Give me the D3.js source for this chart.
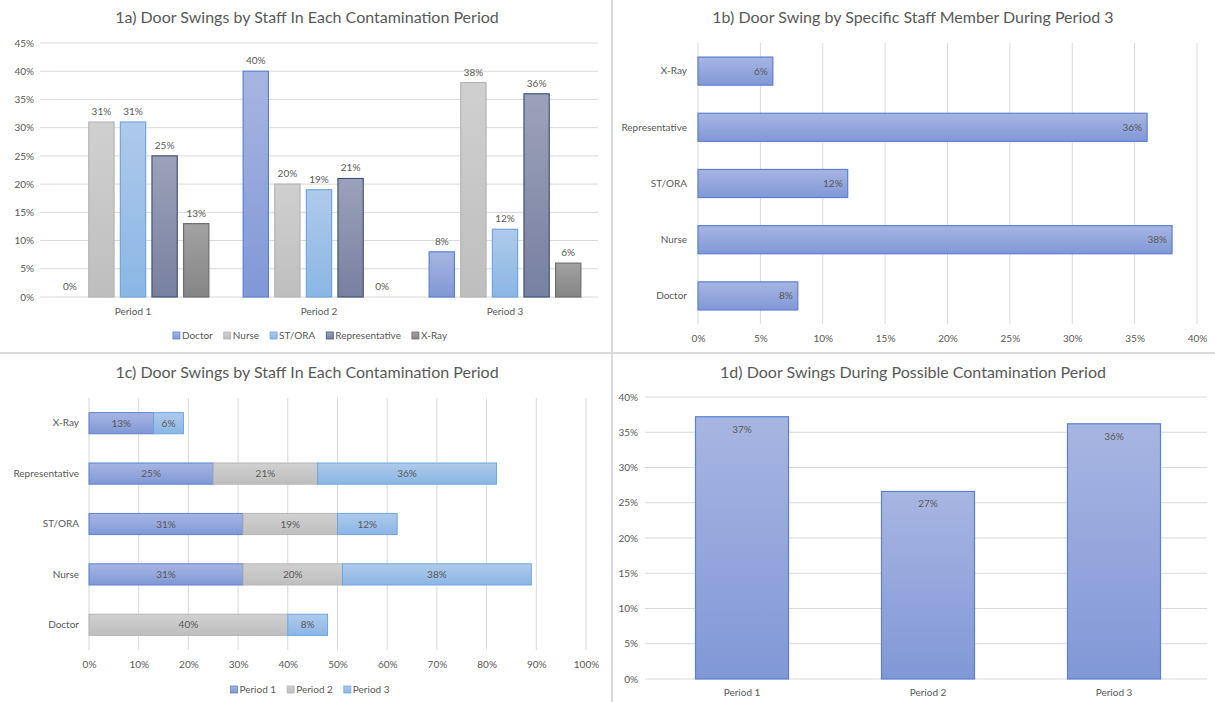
<!DOCTYPE html>
<html><head><meta charset="utf-8">
<script src="https://cdn.jsdelivr.net/npm/d3@7"></script>
<style>
body{margin:0;background:#fff;}
svg{display:block;font-family:Lato,"Open Sans",sans-serif;}
</style></head>
<body>
<svg id="c" width="1215" height="702"></svg>
<script>
// ---------- DATA ----------
const periods = ["Period 1","Period 2","Period 3"];
const staff = ["Doctor","Nurse","ST/ORA","Representative","X-Ray"];
const doctorVals = [0,40,8];
const nurseVals = [31,20,38];
const stOraVals = [31,19,12];
const repVals = [25,21,36];
const xrayVals = [13,0,6];
const p3Staff = ["X-Ray","Representative","ST/ORA","Nurse","Doctor"];
const p3Vals = [6,36,12,38,8];
const stackStaff = ["X-Ray","Representative","ST/ORA","Nurse","Doctor"];
const stackP1 = [13,25,31,31,0];
const stackP2 = [0,21,19,20,40];
const stackP3 = [6,36,12,38,8];
const totalVals = [37.2,26.6,36.2];
const totalLabels = ["37%","27%","36%"];
const ticks1a = [0,5,10,15,20,25,30,35,40,45];
const ticks1b = [0,5,10,15,20,25,30,35,40];
const ticks1c = [0,10,20,30,40,50,60,70,80,90,100];
const ticks1d = [0,5,10,15,20,25,30,35,40];

const svg = d3.select("#c");
const TXT = "#595959", GRID = "#d9d9d9";
const TF = 10;

// gradients
const defs = svg.append("defs");
const palette = {
  doctor:{top:"#a7b5e1",bot:"#8198d7",stroke:"#5b80d2"},
  nurse:{top:"#d0d0d0",bot:"#bebebe",stroke:"#b5b5b5"},
  stora:{top:"#afcaeb",bot:"#8ab6e4",stroke:"#6fa6df"},
  rep:{top:"#9ca2ba",bot:"#7880a0",stroke:"#44547a"},
  xray:{top:"#a2a2a2",bot:"#858585",stroke:"#6e6e6e"}
};
Object.entries(palette).forEach(([k,v])=>{
  const g = defs.append("linearGradient").attr("id","g_"+k).attr("x1",0).attr("y1",0).attr("x2",0).attr("y2",1);
  g.append("stop").attr("offset","0%").attr("stop-color",v.top);
  g.append("stop").attr("offset","100%").attr("stop-color",v.bot);
});
const keyOf = {"Doctor":"doctor","Nurse":"nurse","ST/ORA":"stora","Representative":"rep","X-Ray":"xray"};
const fmt = v => Math.round(v)+"%";

// dividers
svg.append("line").attr("x1",612).attr("x2",612).attr("y1",0).attr("y2",702).attr("stroke","#d9d9d9").attr("stroke-width",2);
svg.append("line").attr("x1",0).attr("x2",1215).attr("y1",353).attr("y2",353).attr("stroke","#d9d9d9").attr("stroke-width",2);

function title(x,y,t){
  svg.append("text").attr("x",x).attr("y",y).attr("text-anchor","middle")
    .attr("font-size",16).attr("fill",TXT).text(t);
}
function styleAxis(g){
  g.select(".domain").remove();
  g.selectAll(".tick line").remove();
  g.selectAll("text").attr("fill",TXT).attr("font-size",TF).attr("font-family","Lato,'Open Sans',sans-serif");
}
function legend(items, cx, y){
  const g = svg.append("g");
  let x = 0;
  items.forEach(it=>{
    const ig = g.append("g").attr("transform",`translate(${x},0)`);
    ig.append("rect").attr("x",0).attr("y",-7).attr("width",7).attr("height",7)
      .attr("fill",`url(#g_${it.key})`).attr("stroke",palette[it.key].stroke).attr("stroke-width",0.8);
    const t = ig.append("text").attr("x",9).attr("y",0).attr("font-size",TF).attr("fill",TXT).text(it.label);
    x += 9 + t.node().getComputedTextLength() + 11;
  });
  const w = x - 11;
  g.attr("transform",`translate(${cx - w/2},${y})`);
}

// ---------- 1a ----------
{
  title(307,23,"1a) Door Swings by Staff In Each Contamination Period");
  const seriesVals = [doctorVals,nurseVals,stOraVals,repVals,xrayVals];
  const y = d3.scaleLinear().domain([0,45]).range([297,43]);
  const x0 = d3.scaleBand().domain(periods).range([40,598]).paddingInner(0).paddingOuter(0);
  const x1 = d3.scaleBand().domain(staff).range([14, x0.bandwidth()-14]).paddingInner(0.2).paddingOuter(0.1);
  svg.append("g").selectAll("line").data(ticks1a).join("line")
    .attr("x1",40).attr("x2",598).attr("y1",d=>y(d)).attr("y2",d=>y(d))
    .attr("stroke",GRID).attr("stroke-width",1);
  const ay = svg.append("g").attr("transform","translate(34,0)").call(d3.axisLeft(y).tickValues(ticks1a).tickFormat(d=>d+"%").tickSize(0).tickPadding(0));
  styleAxis(ay); ay.selectAll("text").attr("dy","0.32em");
  const ax = svg.append("g").attr("transform","translate(0,297)").call(d3.axisBottom(x0).tickSize(0).tickPadding(11));
  styleAxis(ax);
  periods.forEach((p,pi)=>{
    const g = svg.append("g").attr("transform",`translate(${x0(p)},0)`);
    staff.forEach((s,si)=>{
      const v = seriesVals[si][pi];
      if (v>0){
        g.append("rect").attr("x",x1(s)).attr("width",x1.bandwidth())
          .attr("y",y(v)).attr("height",y(0)-y(v))
          .attr("fill",`url(#g_${keyOf[s]})`).attr("stroke",palette[keyOf[s]].stroke).attr("stroke-width",1.2);
      }
      g.append("text").attr("x",x1(s)+x1.bandwidth()/2).attr("y",y(v)-7)
        .attr("text-anchor","middle").attr("font-size",TF).attr("fill",TXT).text(fmt(v));
    });
  });
  legend(staff.map(s=>({key:keyOf[s],label:s})), 310, 339);
}

// ---------- 1b ----------
{
  title(913,23,"1b) Door Swing by Specific Staff Member During Period 3");
  const x = d3.scaleLinear().domain([0,40]).range([698,1197]);
  const y = d3.scaleBand().domain(p3Staff).range([43,324]).paddingInner(0.5).paddingOuter(0.25);
  svg.append("g").selectAll("line").data(ticks1b).join("line")
    .attr("x1",d=>x(d)).attr("x2",d=>x(d)).attr("y1",43).attr("y2",324)
    .attr("stroke",GRID).attr("stroke-width",1);
  const ax = svg.append("g").attr("transform","translate(0,324)").call(d3.axisBottom(x).tickValues(ticks1b).tickFormat(d=>d+"%").tickSize(0).tickPadding(11));
  styleAxis(ax);
  const ay = svg.append("g").attr("transform","translate(687,0)").call(d3.axisLeft(y).tickSize(0).tickPadding(0));
  styleAxis(ay);
  svg.append("g").selectAll("rect").data(p3Staff).join("rect")
    .attr("x",x(0)).attr("y",d=>y(d)).attr("height",y.bandwidth())
    .attr("width",(d,i)=>x(p3Vals[i])-x(0))
    .attr("fill","url(#g_doctor)").attr("stroke",palette.doctor.stroke).attr("stroke-width",1.2);
  svg.append("g").selectAll("text").data(p3Staff).join("text")
    .attr("x",(d,i)=>x(p3Vals[i])-5).attr("y",d=>y(d)+y.bandwidth()/2).attr("dy","0.35em")
    .attr("text-anchor","end").attr("font-size",TF).attr("fill",TXT).text((d,i)=>fmt(p3Vals[i]));
}

// ---------- 1c ----------
{
  title(307,378,"1c) Door Swings by Staff In Each Contamination Period");
  const x = d3.scaleLinear().domain([0,100]).range([89,586]);
  const y = d3.scaleBand().domain(stackStaff).range([398,650]).paddingInner(0.58).paddingOuter(0.29);
  svg.append("g").selectAll("line").data(ticks1c).join("line")
    .attr("x1",d=>x(d)).attr("x2",d=>x(d)).attr("y1",398).attr("y2",650)
    .attr("stroke",GRID).attr("stroke-width",1);
  const ax = svg.append("g").attr("transform","translate(0,650)").call(d3.axisBottom(x).tickValues(ticks1c).tickFormat(d=>d+"%").tickSize(0).tickPadding(11));
  styleAxis(ax);
  const ay = svg.append("g").attr("transform","translate(79,0)").call(d3.axisLeft(y).tickSize(0).tickPadding(0));
  styleAxis(ay);
  const rows = stackStaff.map((s,i)=>({staff:s,p1:stackP1[i],p2:stackP2[i],p3:stackP3[i]}));
  const stack = d3.stack().keys(["p1","p2","p3"])(rows);
  const sk = {p1:"doctor",p2:"nurse",p3:"stora"};
  stack.forEach(layer=>{
    const k = sk[layer.key];
    const g = svg.append("g");
    layer.forEach(d=>{
      const v = d[1]-d[0];
      if (v<=0) return;
      g.append("rect").attr("x",x(d[0])).attr("width",x(d[1])-x(d[0]))
        .attr("y",y(d.data.staff)).attr("height",y.bandwidth())
        .attr("fill",`url(#g_${k})`).attr("stroke",palette[k].stroke).attr("stroke-width",1);
      g.append("text").attr("x",(x(d[0])+x(d[1]))/2).attr("y",y(d.data.staff)+y.bandwidth()/2).attr("dy","0.35em")
        .attr("text-anchor","middle").attr("font-size",TF).attr("fill",TXT).text(fmt(v));
    });
  });
  legend([{key:"doctor",label:"Period 1"},{key:"nurse",label:"Period 2"},{key:"stora",label:"Period 3"}], 310, 693);
}

// ---------- 1d ----------
{
  title(913,378,"1d) Door Swings During Possible Contamination Period");
  const y = d3.scaleLinear().domain([0,40]).range([679,397]);
  const x = d3.scaleBand().domain(periods).range([649,1207]).paddingInner(0.5).paddingOuter(0.25);
  svg.append("g").selectAll("line").data(ticks1d).join("line")
    .attr("x1",645).attr("x2",1207).attr("y1",d=>y(d)).attr("y2",d=>y(d))
    .attr("stroke",GRID).attr("stroke-width",1);
  const ay = svg.append("g").attr("transform","translate(638,0)").call(d3.axisLeft(y).tickValues(ticks1d).tickFormat(d=>d+"%").tickSize(0).tickPadding(0));
  styleAxis(ay); ay.selectAll("text").attr("dy","0.32em");
  const ax = svg.append("g").attr("transform","translate(0,679)").call(d3.axisBottom(x).tickSize(0).tickPadding(10));
  styleAxis(ax);
  svg.append("g").selectAll("rect").data(periods).join("rect")
    .attr("x",d=>x(d)).attr("width",x.bandwidth())
    .attr("y",(d,i)=>y(totalVals[i])).attr("height",(d,i)=>y(0)-y(totalVals[i]))
    .attr("fill","url(#g_doctor)").attr("stroke",palette.doctor.stroke).attr("stroke-width",1.2);
  svg.append("g").selectAll("text").data(periods).join("text")
    .attr("x",d=>x(d)+x.bandwidth()/2).attr("y",(d,i)=>y(totalVals[i])+16)
    .attr("text-anchor","middle").attr("font-size",TF).attr("fill",TXT).text((d,i)=>totalLabels[i]);
}
</script>
</body></html>
